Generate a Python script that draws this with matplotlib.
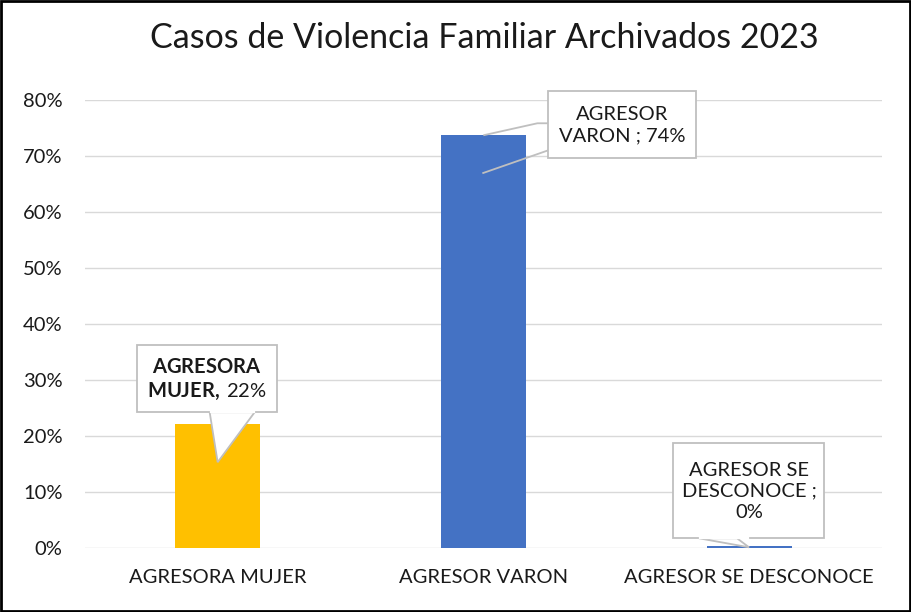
import numpy as np
import matplotlib
matplotlib.use("Agg")
import matplotlib.pyplot as plt
import matplotlib.transforms as mtransforms
from matplotlib.patches import Polygon, Rectangle
from matplotlib.ticker import PercentFormatter

plt.rcParams['font.family'] = ['Lato', 'DejaVu Sans']
plt.rcParams['mathtext.fontset'] = 'custom'
plt.rcParams['mathtext.rm'] = 'Lato'
plt.rcParams['mathtext.bf'] = 'Lato:bold'

# data
categories = ["AGRESORA MUJER", "AGRESOR VARON", "AGRESOR SE DESCONOCE"]
values = [0.221, 0.737, 0.003]
bar_colors = ["#FFC000", "#4472C4", "#4472C4"]
callout_text = [
    r"$\mathbf{AGRESORA}$" + "\n" + r"$\mathbf{MUJER,}\,$" + f"{values[0]:.0%}",
    f"AGRESOR\nVARON ; {values[1]:.0%}",
    f"AGRESOR SE\nDESCONOCE ;\n{values[2]:.0%}",
]

# callout shapes in pixels relative to the bar top: box (x0, x1, y0, y1),
# pointer lines, text centre
callout_box = [(-81, 59, 12, 79), (65, 213, -23, 44), (-76, 75, 8, 103)]
callout_ptr = [
    [[(-8, 12), (0, -38), (37, 12)]],
    [[(65, 12), (54, 12), (0, 0)], [(-1, -38), (65, -15)]],
    [[(-50, 8), (0, -1), (-12, 8)]],
]
callout_txt = [(-11, 45), (139, 10), (0, 55)]

fig = plt.figure(figsize=(9.12, 6.12), dpi=100)
ax = fig.add_axes([0.093, 0.1046, 0.874, 0.732])

x = np.arange(len(categories))
ax.bar(x, values, width=0.32, color=bar_colors, zorder=2)

ax.set_ylim(0, 0.8)
ax.set_xlim(-0.5, len(categories) - 0.5)
ax.set_yticks(np.arange(0, 0.81, 0.1))
ax.yaxis.set_major_formatter(PercentFormatter(1.0, decimals=0))
ax.set_xticks(x)
ax.set_xticklabels(categories)
ax.tick_params(length=0, labelsize=14.5, colors="#1a1a1a", pad=15)
ax.tick_params(axis='y', pad=16)
ax.grid(axis='y', color="#d9d9d9", linewidth=1, zorder=0)
for s in ax.spines.values():
    s.set_visible(False)

fig.text(0.531, 0.938, "Casos de Violencia Familiar Archivados 2023",
         ha='center', va='center', fontsize=24.5, color="#1a1a1a")

# callouts
for i in range(len(categories)):
    tr = mtransforms.Affine2D() + mtransforms.ScaledTranslation(x[i], values[i], ax.transData)
    x0, x1, y0, y1 = callout_box[i]
    for pts in callout_ptr[i]:
        if len(callout_ptr[i]) > 1:
            ax.add_patch(Polygon(pts, closed=False, fill=False, clip_on=False,
                                 edgecolor="#bfbfbf", linewidth=1.3, transform=tr, zorder=3))
        else:
            ax.add_patch(Polygon(pts, closed=True, facecolor="white", clip_on=False,
                                 edgecolor="#bfbfbf", linewidth=1.3, transform=tr, zorder=3))
    ax.add_patch(Rectangle((x0, y0), x1 - x0, y1 - y0, facecolor="white", clip_on=False,
                           edgecolor="#bfbfbf", linewidth=1.3, transform=tr, zorder=4))
    if len(callout_ptr[i]) == 1:
        # cover the pointer base on the box edge
        px = [p[0] for p in callout_ptr[i][0]]
        ax.plot([min(px) + 1, max(px) - 1], [y0, y0], color="white", linewidth=1.6,
                transform=tr, zorder=5, clip_on=False)
    tx, ty = callout_txt[i]
    ax.text(tx, ty, callout_text[i], ha='center', va='center', fontsize=14.5,
            color="#1a1a1a", linespacing=1.3, transform=tr, zorder=6, clip_on=False)

fig.patches.append(Rectangle((0.001, 0.002), 0.997, 0.996, transform=fig.transFigure,
                             fill=False, edgecolor="black", linewidth=2))

fig.savefig("out.png", dpi=100)
